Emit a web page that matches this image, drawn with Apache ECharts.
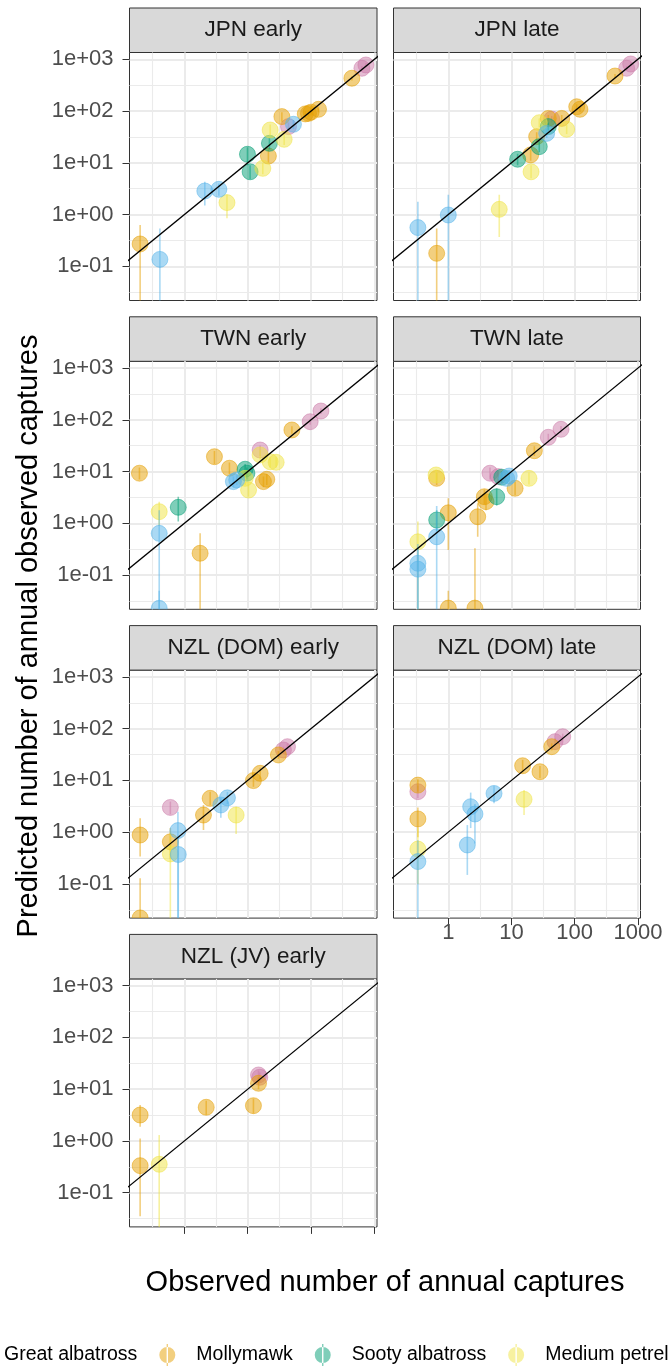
<!DOCTYPE html>
<html>
<head>
<meta charset="utf-8">
<title>Observed vs predicted annual captures</title>
<script src="https://cdn.jsdelivr.net/npm/echarts@6.0.0/dist/echarts.min.js"></script>
<style>
  html, body { margin: 0; padding: 0; background: #fff; }
  #chart { width: 668px; height: 1369px; }
</style>
</head>
<body>
<div id="chart"></div>
<script>
// ---- data ----
var species = ['Great albatross', 'Mollymawk', 'Sooty albatross', 'Medium petrel', 'Small petrel'];
var panelNames = ['JPN early', 'JPN late', 'TWN early', 'TWN late', 'NZL (DOM) early', 'NZL (DOM) late', 'NZL (JV) early'];
var xTickValues = [1, 10, 100, 1000];
var xTickLabels = ['1', '10', '100', '1000'];
var yTickValues = [0.1, 1, 10, 100, 1000];
var yTickLabels = ['1e-01', '1e+00', '1e+01', '1e+02', '1e+03'];
var identityLine = [0.001, 100000];

// rows: [species index, observed, predicted, lower, upper]
var jpnEarly = [
  [1, 0.2, 0.27, 0.001, 0.63], [4, 0.41, 0.136, 0.001, 0.54], [4, 2.1, 2.85, 1.5, 4.3],
  [4, 3.5, 3.07, 2.3, 4.0], [3, 4.7, 1.7, 0.85, 2.4], [2, 9.9, 14.6, 9, 20],
  [2, 10.9, 6.7, 4.8, 9], [3, 17.3, 7.8, 6, 10], [1, 21.2, 13.5, 10, 18],
  [2, 22, 23.8, 18, 30], [3, 22.6, 43, 33, 55], [3, 37.6, 28.4, 22, 36],
  [1, 34.6, 78, 62, 95], [0, 44, 50, 42, 60], [4, 52.7, 55.5, 45, 67],
  [1, 81, 88, 75, 100], [1, 91, 90, 78, 104], [1, 100, 95, 82, 108], [1, 131, 108, 95, 122],
  [1, 441, 430, 390, 470], [0, 635, 670, 610, 740], [0, 734, 776, 700, 850]
];
var jpnLate = [
  [4, 0.33, 0.56, 0.001, 1.77], [1, 0.655, 0.178, 0.001, 0.54], [4, 1.0, 0.98, 0.001, 2.4],
  [3, 6.4, 1.26, 0.37, 2.4], [2, 12.5, 11.7, 9, 15], [3, 20.4, 6.7, 5, 9],
  [1, 20.1, 14.2, 11, 18], [2, 27.5, 20.5, 16, 26], [1, 25, 32, 26, 39],
  [3, 27.5, 59.6, 48, 72], [4, 36, 37, 30, 45], [2, 38.2, 50, 42, 60],
  [1, 38.2, 72, 62, 84], [0, 43.3, 70, 60, 80], [1, 62.3, 72, 62, 84],
  [3, 74.6, 44.4, 36, 54], [1, 107.6, 121, 108, 135], [1, 121, 108, 96, 121],
  [1, 434, 475, 430, 520], [0, 665, 670, 610, 740], [0, 769, 811, 740, 880]
];
var twnEarly = [
  [1, 0.195, 9.3, 7, 12], [3, 0.4, 1.68, 0.9, 2.6], [4, 0.4, 0.64, 0.001, 1.8],
  [4, 0.4, 0.0228, 0.001, 0.05], [2, 0.8, 2.04, 1.08, 3.27], [1, 1.77, 0.264, 0.001, 0.64],
  [1, 2.98, 19.4, 14, 25], [1, 5.14, 11.6, 9, 15], [4, 5.94, 6.4, 5, 8],
  [4, 6.7, 6.9, 5.5, 8.5], [3, 9.1, 7.4, 5.5, 9.5], [2, 9.1, 11.1, 8, 14],
  [2, 9.7, 9.3, 7, 12], [3, 10.3, 4.4, 3.3, 5.8], [3, 15.7, 21, 17, 26],
  [0, 15.7, 26.1, 20, 32], [1, 17.7, 6.4, 5, 8], [1, 20, 7.1, 5.5, 9],
  [3, 22.6, 15.5, 12, 19], [3, 28.1, 15.1, 12, 19], [1, 49.8, 63.7, 54, 75],
  [0, 96.8, 92, 80, 105], [0, 143, 148, 130, 168]
];
var twnLate = [
  [3, 0.64, 8.6, 6.5, 11], [1, 0.655, 7.4, 5.5, 9.5], [3, 0.33, 0.44, 0.001, 1.08],
  [4, 0.33, 0.169, 0.001, 0.4], [4, 0.33, 0.13, 0.001, 0.35], [4, 0.655, 0.55, 0.001, 2.16],
  [2, 0.655, 1.16, 0.7, 1.8], [1, 1.0, 1.6, 0.305, 3.05], [1, 1.0, 0.023, 0.001, 0.05],
  [1, 2.64, 0.023, 0.001, 0.33], [1, 2.92, 1.34, 0.55, 2.44], [1, 3.95, 2.62, 1.8, 3.6],
  [1, 3.72, 3.27, 2.3, 4.5], [2, 5.83, 3.27, 2.2, 4.7], [0, 4.57, 9.3, 7, 12],
  [0, 6.18, 8, 6, 10.5], [2, 7, 7.8, 6, 10], [4, 8.4, 7.4, 5.8, 9.5],
  [4, 9.2, 8.2, 6.4, 10.5], [1, 11.4, 4.75, 3.5, 6.4], [3, 18.9, 7.4, 5.6, 9.6],
  [1, 23, 25.3, 20, 31], [0, 38.2, 46, 39, 54], [0, 60.7, 65.6, 56, 76]
];
var nzlDomEarly = [
  [1, 0.2, 0.88, 0.34, 1.85], [1, 0.2, 0.022, 0.001, 0.128], [0, 0.6, 3.0, 2.2, 3.9],
  [1, 0.6, 0.65, 0.3, 1.2], [3, 0.6, 0.38, 0.001, 1.0], [4, 0.79, 1.07, 0.001, 2.48],
  [4, 0.8, 0.37, 0.001, 0.8], [1, 2.0, 2.14, 1.1, 3.35], [1, 2.55, 4.5, 3.3, 6],
  [4, 3.76, 3.35, 1.9, 4.6], [4, 4.78, 4.6, 3.5, 6], [3, 6.56, 2.14, 0.92, 3.1],
  [1, 12.3, 9.9, 7.5, 13], [1, 15.7, 13.7, 10.5, 17.5], [1, 30.5, 31, 26, 37],
  [0, 36.6, 38.7, 33, 45], [0, 42.4, 44.8, 38, 52]
];
var nzlDomLate = [
  [1, 0.33, 8.1, 6, 10.5], [0, 0.33, 6.05, 4.5, 8], [1, 0.33, 1.8, 0.8, 3],
  [3, 0.33, 0.47, 0.1, 1.2], [4, 0.33, 0.27, 0.001, 0.7], [4, 2.0, 0.565, 0.149, 1.37],
  [4, 2.26, 3.1, 1.2, 5.8], [4, 2.64, 2.24, 0.6, 3.5], [4, 5.29, 5.6, 3.6, 7.8],
  [1, 15, 19.2, 14, 25], [3, 15.8, 4.3, 2.14, 6.5], [1, 28.2, 14.7, 11, 19],
  [1, 43.3, 44.8, 38, 52], [0, 48.8, 56, 48, 65], [0, 64.6, 69.8, 60, 80]
];
var nzlJvEarly = [
  [1, 0.2, 3.17, 1.88, 4.95], [1, 0.2, 0.333, 0.035, 1.12], [3, 0.4, 0.354, 0.001, 1.3],
  [1, 2.21, 4.47, 3.2, 6], [1, 12.3, 4.8, 3.4, 6.6], [1, 14.8, 13, 10, 17],
  [0, 14.8, 18.8, 15, 23], [0, 15.5, 17, 13.5, 21]
];
var panels = [jpnEarly, jpnLate, twnEarly, twnLate, nzlDomEarly, nzlDomLate, nzlJvEarly];

// ---- style / layout ----
var speciesColors = ['#CC79A7', '#E69F00', '#009E73', '#F0E442', '#56B4E9'];
var colLeft = [129.5, 393.5];
var colWidth = [247.5, 247];
var rowTop = [52.5, 361.3, 670.1, 978.9];
var panelH = 248;
var stripH = 44.5;
var xExtent = [-0.867, 3.041];
var yExtent = [-1.661, 3.131];
var font = '"Liberation Sans", Arial, Helvetica, sans-serif';

function lg(v) { return Math.log10(v); }
function alpha(hex, a) {
  var n = parseInt(hex.slice(1), 16);
  return 'rgba(' + (n >> 16) + ',' + ((n >> 8) & 255) + ',' + (n & 255) + ',' + a + ')';
}

var xMajor = xTickValues.map(lg);
var yMajor = yTickValues.map(lg);
var xMinor = [-0.5, 0.5, 1.5, 2.5];
var yMinor = [-1.5, -0.5, 0.5, 1.5, 2.5];

function labelFor(values, labels) {
  return function (v) {
    for (var i = 0; i < values.length; i++) {
      if (Math.abs(lg(values[i]) - v) < 1e-6) return labels[i];
    }
    return '';
  };
}

var grids = [], xAxes = [], yAxes = [], series = [], graphics = [];

panels.forEach(function (rows, p) {
  var col = p % 2, row = Math.floor(p / 2);
  var left = colLeft[col], top = rowTop[row], w = colWidth[col];
  grids.push({
    left: left, top: top, width: w, height: panelH,
    show: true, backgroundColor: '#fff', borderColor: '#333', borderWidth: 1
  });
  var bottomPanel = (p === 5 || p === 6);
  xAxes.push({
    type: 'value', gridIndex: p, min: xExtent[0], max: xExtent[1], position: 'bottom',
    axisLine: { show: false, onZero: false },
    axisTick: { show: bottomPanel, customValues: xMajor, length: 7, lineStyle: { color: '#333', width: 1 } },
    axisLabel: {
      show: p === 5, customValues: xMajor, margin: 4,
      formatter: labelFor(xTickValues, xTickLabels),
      fontSize: 22, color: '#4D4D4D', fontFamily: font
    },
    splitLine: { show: true, lineStyle: { color: '#EBEBEB', width: 2 } }
  });
  yAxes.push({
    type: 'value', gridIndex: p, min: yExtent[0], max: yExtent[1], position: 'left',
    axisLine: { show: false, onZero: false },
    axisTick: { show: col === 0, customValues: yMajor, length: 7, lineStyle: { color: '#333', width: 1 } },
    axisLabel: {
      show: col === 0, customValues: yMajor, margin: 16,
      formatter: labelFor(yTickValues, yTickLabels),
      fontSize: 22, color: '#4D4D4D', fontFamily: font
    },
    splitLine: { show: true, lineStyle: { color: '#EBEBEB', width: 2 } }
  });

  // strip
  graphics.push({
    type: 'rect', silent: true,
    shape: { x: left, y: top - stripH, width: w, height: stripH },
    style: { fill: '#D9D9D9', stroke: '#333', lineWidth: 1 }
  });
  graphics.push({
    type: 'text', silent: true,
    x: left + w / 2, y: top - stripH / 2,
    style: { text: panelNames[p], fill: '#1A1A1A', font: '22.5px ' + font, align: 'center', verticalAlign: 'middle' }
  });

  species.forEach(function (name, s) {
    var data = rows.filter(function (r) { return r[0] === s; }).map(function (r) {
      return [lg(r[1]), lg(r[2]), lg(r[3]), lg(r[4])];
    });
    if (!data.length) return;
    series.push({
      type: 'custom', name: name, xAxisIndex: p, yAxisIndex: p, clip: true, silent: true,
      itemStyle: { color: alpha(speciesColors[s], 0.5) },
      encode: { x: 0, y: 1 },
      data: data,
      renderItem: function (params, api) {
        var c = api.coord([api.value(0), api.value(1)]);
        var a = api.coord([api.value(0), api.value(2)]);
        var b = api.coord([api.value(0), api.value(3)]);
        var color = api.visual('color');
        return {
          type: 'group',
          children: [
            { type: 'line', shape: { x1: a[0], y1: a[1], x2: b[0], y2: b[1] }, style: { stroke: color, lineWidth: 1.6 } },
            { type: 'circle', shape: { cx: c[0], cy: c[1], r: 8 }, style: { fill: color, stroke: color, lineWidth: 1 } }
          ]
        };
      }
    });
  });

  series.push({
    type: 'line', xAxisIndex: p, yAxisIndex: p, clip: true, silent: true, z: 5,
    symbol: 'none', lineStyle: { color: '#000', width: 1.3 },
    data: identityLine.map(function (v) { return [lg(v), lg(v)]; })
  });
});

// minor grid lines as extra hidden axes on the same grids
panels.forEach(function (rows, p) {
  xAxes.push({
    type: 'value', gridIndex: p, min: xExtent[0], max: xExtent[1], position: 'bottom',
    axisLine: { show: false, onZero: false }, axisLabel: { show: false },
    axisTick: { show: false, customValues: xMinor },
    splitLine: { show: true, lineStyle: { color: '#EBEBEB', width: 1.1 } }
  });
  yAxes.push({
    type: 'value', gridIndex: p, min: yExtent[0], max: yExtent[1], position: 'left',
    axisLine: { show: false, onZero: false }, axisLabel: { show: false },
    axisTick: { show: false, customValues: yMinor },
    splitLine: { show: true, lineStyle: { color: '#EBEBEB', width: 1.1 } }
  });
});

// axis titles
graphics.push({
  type: 'text', silent: true, x: 385, y: 1283,
  style: { text: 'Observed number of annual captures', fill: '#000', font: '29px ' + font, align: 'center', verticalAlign: 'middle' }
});
graphics.push({
  type: 'text', silent: true, x: 29, y: 636, rotation: Math.PI / 2,
  style: { text: 'Predicted number of annual observed captures', fill: '#000', font: '29px ' + font, align: 'center', verticalAlign: 'middle' }
});

var keyIcon = 'path://M0,11a8,8 0 1,0 16,0a8,8 0 1,0 -16,0Z M7.3,0h1.4v22h-1.4Z';

var chart = echarts.init(document.getElementById('chart'), null, { renderer: 'canvas' });
chart.setOption({
  animation: false,
  backgroundColor: '#fff',
  textStyle: { fontFamily: font },
  legend: {
    left: -33, top: 1344, width: 1200, orient: 'horizontal',
    itemWidth: 48, itemHeight: 22, itemGap: 22, padding: 0,
    textStyle: { fontSize: 19.5, color: '#000', fontFamily: font },
    data: species.map(function (n) { return { name: n, icon: keyIcon }; })
  },
  grid: grids,
  xAxis: xAxes,
  yAxis: yAxes,
  series: series,
  graphic: graphics
});
</script>
</body>
</html>
